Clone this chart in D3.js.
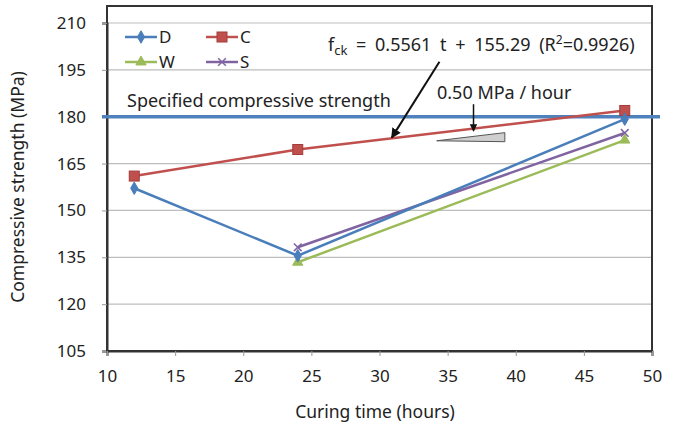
<!DOCTYPE html>
<meta charset="utf-8">
<head>
    <script type="text/javascript" src="https://d3js.org/d3.v7.min.js"></script>
    <style>
        body { margin: 0; background: white; }
        text { font-family: "Noto Sans", "Open Sans", sans-serif; fill: #222; }
    </style>
    <title></title>
</head>
<body>
<script>

    var width = 675
    var height = 428

    // curing time (hours)
    var hours = [12, 24, 48]
    // compressive strength (MPa) per series, null = not measured
    var valD = [157.1, 135.5, 179.2]
    var valC = [161.0, 169.5, 182.0]
    var valW = [null, 133.4, 172.5]
    var valS = [null, 138.2, 174.8]

    var xTicks = [10, 15, 20, 25, 30, 35, 40, 45, 50]
    var yTicks = [105, 120, 135, 150, 165, 180, 195, 210]
    var specified = 180

    var series = [
        {name: "D", values: valD, color: "#4a7ebb", marker: "diamond"},
        {name: "C", values: valC, color: "#c0504d", marker: "square"},
        {name: "W", values: valW, color: "#9bbb59", marker: "triangle"},
        {name: "S", values: valS, color: "#8064a2", marker: "cross"}
    ]

    var pLeft = 107, pRight = 652, pTop = 23, pBottom = 351, frameTop = 6

    var svg = d3.select("body").append("svg")
        .attr("width", width)
        .attr("height", height)

    var x = d3.scaleLinear().domain([10, 50]).range([pLeft, pRight])
    var y = d3.scaleLinear().domain([105, 210]).range([pBottom, pTop])

    var defs = svg.append("defs")
    defs.append("marker")
        .attr("id", "arrow")
        .attr("viewBox", "0 0 10 10")
        .attr("refX", 9).attr("refY", 5)
        .attr("markerWidth", 5).attr("markerHeight", 5)
        .attr("orient", "auto")
        .append("path").attr("d", "M0,0L10,5L0,10z").attr("fill", "#111")

    // gridlines
    svg.append("g").selectAll("line")
        .data(yTicks.slice(1))
        .enter().append("line")
        .attr("x1", pLeft).attr("x2", pRight)
        .attr("y1", d => y(d)).attr("y2", d => y(d))
        .style("stroke", "#bdbdbd").style("stroke-width", 1.2)

    // frame
    svg.append("rect")
        .attr("x", pLeft).attr("y", frameTop)
        .attr("width", pRight - pLeft).attr("height", pBottom - frameTop)
        .style("fill", "none").style("stroke", "#333").style("stroke-width", 2)

    // axes
    var yAxis = svg.append("g")
        .attr("transform", "translate(" + pLeft + ",0)")
        .call(d3.axisLeft(y).tickValues(yTicks).tickSize(5).tickPadding(16))
    var xAxis = svg.append("g")
        .attr("transform", "translate(0," + pBottom + ")")
        .call(d3.axisBottom(x).tickValues(xTicks).tickSize(5).tickPadding(14))
    ;[xAxis, yAxis].forEach(function (g) {
        g.select(".domain").style("stroke", "#333").style("stroke-width", 2)
        g.selectAll(".tick line").style("stroke", "#999")
        g.selectAll(".tick text").style("font-size", "17px")
            .style("font-family", "'Noto Sans', sans-serif").style("fill", "#222")
    })

    // specified compressive strength line
    svg.append("line")
        .attr("x1", pLeft - 5).attr("x2", pRight + 8)
        .attr("y1", y(specified)).attr("y2", y(specified))
        .style("stroke", "#4f81bd").style("stroke-width", 3.5)
    svg.append("text")
        .attr("x", 127).attr("y", y(specified) - 10)
        .style("font-size", "18px")
        .text("Specified compressive strength")

    var line = d3.line()
        .defined(d => d[1] != null)
        .x(d => x(d[0])).y(d => y(d[1]))

    function drawMarker(g, type, color, cx, cy) {
        if (type == "diamond") {
            g.append("path").attr("d", d3.symbol(d3.symbolDiamond, 45)())
                .attr("transform", "translate(" + cx + "," + cy + ")")
                .style("fill", color).style("stroke", color)
        } else if (type == "square") {
            g.append("rect").attr("x", cx - 5).attr("y", cy - 5)
                .attr("width", 10).attr("height", 10)
                .style("fill", color).style("stroke", "#a33c3a").style("stroke-width", 1)
        } else if (type == "triangle") {
            g.append("path").attr("d", d3.symbol(d3.symbolTriangle, 45)())
                .attr("transform", "translate(" + cx + "," + cy + ")")
                .style("fill", color).style("stroke", color)
        } else {
            g.append("path").attr("d", d3.symbol(d3.symbolTimes, 40)())
                .attr("transform", "translate(" + cx + "," + cy + ")")
                .style("fill", "none").style("stroke", color).style("stroke-width", 1.5)
        }
    }

    var lines = svg.append("g")
    series.slice().reverse().forEach(function (s) {
        var pts = hours.map((h, i) => [h, s.values[i]])
        lines.append("path")
            .datum(pts)
            .attr("d", line)
            .style("fill", "none")
            .style("stroke", s.color)
            .style("stroke-width", 2.5)
        pts.filter(p => p[1] != null).forEach(function (p) {
            drawMarker(lines, s.marker, s.color, x(p[0]), y(p[1]))
        })
    })

    // legend
    var legend = svg.append("g")
    series.forEach(function (s, i) {
        var lx = 125 + (i % 2) * 81
        var ly = 37 + Math.floor(i / 2) * 25
        legend.append("line")
            .attr("x1", lx).attr("x2", lx + 32)
            .attr("y1", ly).attr("y2", ly)
            .style("stroke", s.color).style("stroke-width", 2.5)
        drawMarker(legend, s.marker, s.color, lx + 16, ly)
        legend.append("text")
            .attr("x", lx + 34).attr("y", ly + 6)
            .style("font-size", "17px")
            .text(s.name)
    })

    // regression equation
    var eq = svg.append("text")
        .attr("x", 328).attr("y", 51)
        .style("font-size", "18px")
        .style("word-spacing", "4px")
    eq.append("tspan").text("f")
    eq.append("tspan").attr("dy", 4).style("font-size", "13px").text("ck")
    eq.append("tspan").attr("dy", -4).text(" = 0.5561 t + 155.29  (R")
    eq.append("tspan").attr("dy", -7).style("font-size", "12px").text("2")
    eq.append("tspan").attr("dy", 7).text("=0.9926)")

    svg.append("line")
        .attr("x1", x(34.4)).attr("y1", y(197.6))
        .attr("x2", x(30.9)).attr("y2", y(173.3))
        .style("stroke", "#111").style("stroke-width", 2)
        .attr("marker-end", "url(#arrow)")

    // slope annotation
    svg.append("text")
        .attr("x", 437).attr("y", 99)
        .style("font-size", "18px")
        .text("0.50 MPa / hour")
    svg.append("line")
        .attr("x1", x(36.9)).attr("y1", y(184))
        .attr("x2", x(36.9)).attr("y2", y(175.4))
        .style("stroke", "#111").style("stroke-width", 1.5)
        .attr("marker-end", "url(#arrow)")
    svg.append("path")
        .attr("d", "M" + x(34.2) + "," + y(172.3) + "L" + x(39.2) + "," + y(174.9) +
            "L" + x(39.2) + "," + y(172.0) + "Z")
        .style("fill", "#cfcfcf").style("stroke", "#555").style("stroke-width", 1)

    // axis titles
    svg.append("text")
        .attr("x", 375).attr("y", 418)
        .attr("text-anchor", "middle")
        .style("font-size", "17.5px")
        .text("Curing time (hours)")
    svg.append("text")
        .attr("transform", "translate(24," + ((pTop + pBottom) / 2) + ") rotate(-90)")
        .attr("text-anchor", "middle")
        .style("font-size", "17.5px")
        .text("Compressive strength (MPa)")

</script>
</body>
</html>
